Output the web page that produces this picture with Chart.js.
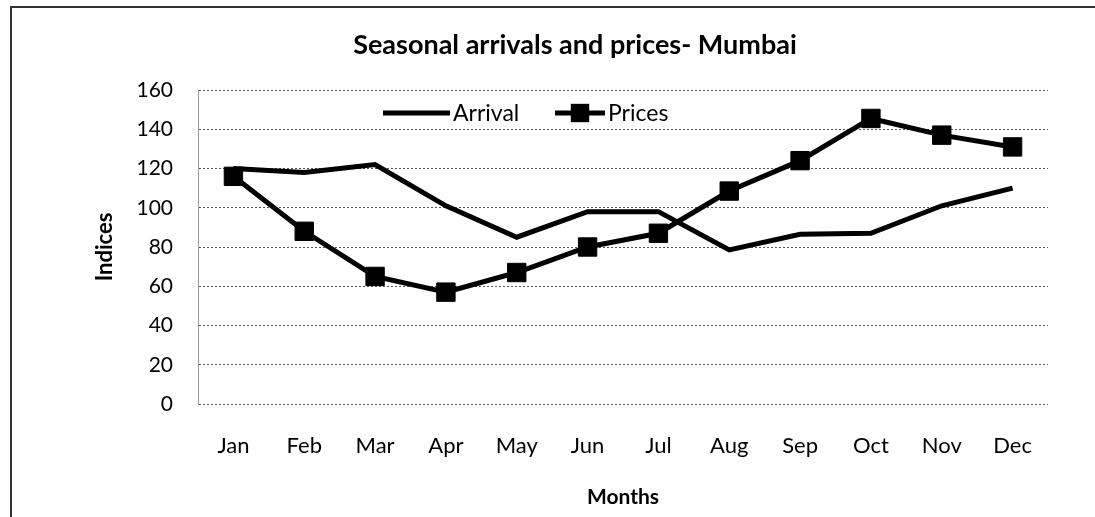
<!DOCTYPE html>
<html>
<head>
<meta charset="utf-8">
<title>Seasonal arrivals and prices- Mumbai</title>
<script src="https://cdn.jsdelivr.net/npm/chart.js@4.4.0/dist/chart.umd.min.js"></script>
<style>
  html, body { margin: 0; padding: 0; background: #fff; }
  #wrap { width: 1095px; height: 517px; }
</style>
</head>
<body>
<div id="wrap"><canvas id="grafico" width="1095" height="517"></canvas></div>
<script>
    // dados
    const meses = ['Jan', 'Feb', 'Mar', 'Apr', 'May', 'Jun', 'Jul', 'Aug', 'Sep', 'Oct', 'Nov', 'Dec'];
    const arrival = [120, 118, 122, 101, 85, 98, 98, 78.5, 86.5, 87, 101, 110];
    const prices = [116, 88, 65, 57, 67, 80, 87, 108.5, 124, 145.5, 137, 131];
    const ticksY = [0, 20, 40, 60, 80, 100, 120, 140, 160];

    const tituloTexto = 'Seasonal arrivals and prices- Mumbai';

    // moldura (esquerda e topo) e titulo
    const molduraPlugin = {
        id: 'moldura',
        beforeDraw(chart) {
            const ctx = chart.ctx;
            ctx.save();
            ctx.strokeStyle = '#333';
            ctx.lineWidth = 2;
            ctx.beginPath();
            ctx.moveTo(11, 517);
            ctx.lineTo(11, 7);
            ctx.lineTo(1095, 7);
            ctx.stroke();
            ctx.restore();
        },
        afterDraw(chart) {
            const ctx = chart.ctx;
            ctx.save();
            ctx.fillStyle = '#000';
            ctx.font = 'bold 27px Lato';
            ctx.textAlign = 'center';
            ctx.textBaseline = 'middle';
            ctx.fillText(tituloTexto, 575, 45);
            ctx.restore();
        }
    };

    // legenda dentro da area do grafico
    const legendaPlugin = {
        id: 'legendaInterna',
        afterDatasetsDraw(chart) {
            const ctx = chart.ctx;
            const y = 113;
            const itens = [
                { ds: chart.data.datasets[0], x0: 383, x1: 450 },
                { ds: chart.data.datasets[1], x0: 555, x1: 605 }
            ];
            ctx.save();
            ctx.font = '23px Lato';
            ctx.textAlign = 'left';
            ctx.textBaseline = 'middle';
            itens.forEach(item => {
                ctx.strokeStyle = item.ds.borderColor;
                ctx.lineWidth = item.ds.borderWidth;
                ctx.beginPath();
                ctx.moveTo(item.x0, y);
                ctx.lineTo(item.x1, y);
                ctx.stroke();
                if (item.ds.pointRadius > 0) {
                    const lado = item.ds.pointRadius * Math.SQRT2;
                    const cx = (item.x0 + item.x1) / 2;
                    ctx.fillStyle = item.ds.pointBackgroundColor;
                    ctx.fillRect(cx - lado / 2, y - lado / 2, lado, lado);
                }
                ctx.fillStyle = '#000';
                ctx.fillText(item.ds.label, item.x1 + 3, y + 1);
            });
            ctx.restore();
        }
    };

    Chart.defaults.font.family = 'Lato';
    Chart.defaults.color = '#000';

    const ctx = document.getElementById('grafico').getContext('2d');
    new Chart(ctx, {
        type: 'line',
        data: {
            labels: meses,
            datasets: [{
                label: 'Arrival',
                data: arrival,
                borderColor: '#000',
                borderWidth: 5,
                pointRadius: 0,
                tension: 0
            }, {
                label: 'Prices',
                data: prices,
                borderColor: '#000',
                borderWidth: 5,
                pointStyle: 'rect',
                pointRadius: 13,
                pointBackgroundColor: '#000',
                pointBorderColor: '#000',
                pointBorderWidth: 1,
                tension: 0
            }]
        },
        options: {
            responsive: false,
            animation: false,
            layout: { padding: { left: 80, right: 47, top: 90, bottom: 3 } },
            plugins: {
                legend: { display: false },
                title: { display: false },
                tooltip: { enabled: false }
            },
            scales: {
                x: {
                    offset: true,
                    grid: { display: false, drawTicks: false },
                    border: { display: false },
                    ticks: { font: { size: 22 }, padding: 29, maxRotation: 0 },
                    title: {
                        display: true,
                        text: 'Months',
                        font: { size: 21, weight: 'bold' },
                        padding: { top: 0, bottom: 4 }
                    },
                    afterFit: s => { s.height = 110; }
                },
                y: {
                    min: 0,
                    max: 160,
                    afterBuildTicks: s => { s.ticks = ticksY.map(v => ({ value: v })); },
                    grid: { color: '#555', lineWidth: 1, drawTicks: false },
                    border: { display: true, color: '#999', dash: [2, 2] },
                    ticks: { font: { size: 21 }, padding: 25 },
                    title: {
                        display: true,
                        text: 'Indices',
                        font: { size: 22, weight: 'bold' },
                        padding: { top: 12, bottom: 0 }
                    },
                    afterFit: s => { s.width = 118; }
                }
            }
        },
        plugins: [molduraPlugin, legendaPlugin]
    });
</script>
</body>
</html>
